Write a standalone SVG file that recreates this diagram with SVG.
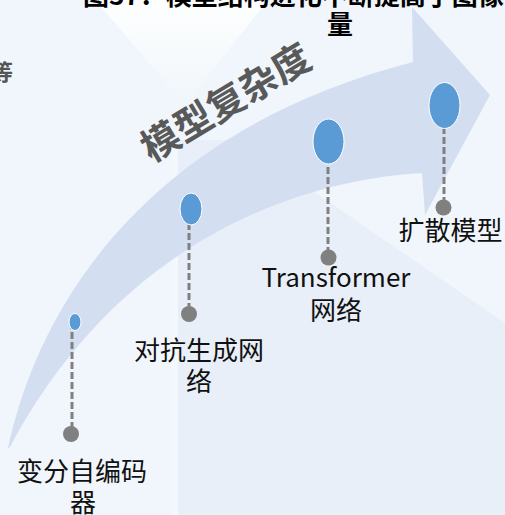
<svg xmlns="http://www.w3.org/2000/svg" width="505" height="515" viewBox="0 0 505 515">
<defs>
<linearGradient id="glow" x1="0" y1="0" x2="0" y2="1">
<stop offset="0" stop-color="#ffffff" stop-opacity="0.95"/>
<stop offset="1" stop-color="#ffffff" stop-opacity="0"/>
</linearGradient>
<style>
.lbl{font-family:"Noto Sans CJK SC","Noto Sans",sans-serif;font-size:26px;fill:#111111;text-anchor:middle}
.title{font-family:"Noto Sans CJK SC","Noto Sans",sans-serif;font-size:26px;font-weight:bold;fill:#000000}
.stage{fill:#5b9bd5;stroke:#ffffff;stroke-width:1}
.dot{fill:#808080}
.conn{stroke:#808080;stroke-width:3;stroke-dasharray:7 3;fill:none}
</style>
</defs>
<rect width="505" height="515" fill="#f0f6fb"/>
<polygon points="177,140 290,140 300,182 505,323 505,515 177,515" fill="#e8eff8"/>
<rect x="172" y="140" width="6" height="375" fill="#f3f8fc"/>
<polygon points="95,0 268,0 185,105" fill="url(#glow)"/>

<g id="arrow">
<path d="M 8 448 C 40 300, 150 130, 413 62 L 412 7 L 490 95 L 425 215 L 422 173 C 300 180, 120 240, 10 447 Z" fill="#d3dff0"/>
</g>

<g id="title">
<text class="title" x="83" y="5">图37：模型结构进化不断提高了图像</text>
<text class="title" x="340" y="34" text-anchor="middle">量</text>
</g>

<text x="-9" y="80" font-family="'Noto Sans CJK SC','Noto Sans',sans-serif" font-size="22" font-weight="bold" fill="#555555">等</text>

<text transform="translate(233,114) rotate(-31)" text-anchor="middle" font-family="'Noto Sans CJK SC','Noto Sans',sans-serif" font-size="38" font-weight="bold" fill="#595959">模型复杂度</text>

<g id="connectors">
<line class="conn" x1="72" y1="322" x2="72" y2="430"/>
<line class="conn" x1="189" y1="203" x2="189" y2="310"/>
<line class="conn" x1="328" y1="147" x2="328" y2="254"/>
<line class="conn" x1="444" y1="97" x2="444" y2="204"/>
</g>

<g id="vae">
<ellipse class="stage" cx="75" cy="322" rx="6" ry="8.5"/>
<circle class="dot" cx="71" cy="434" r="8"/>
<text class="lbl" x="82" y="481">变分自编码</text>
<text class="lbl" x="83" y="512">器</text>
</g>

<g id="gan">
<ellipse class="stage" cx="191" cy="209" rx="11" ry="16"/>
<circle class="dot" cx="189" cy="314" r="8"/>
<text class="lbl" x="199" y="360">对抗生成网</text>
<text class="lbl" x="199" y="391">络</text>
</g>

<g id="transformer">
<ellipse class="stage" cx="328.5" cy="141.5" rx="15.5" ry="22.5"/>
<circle class="dot" cx="328.5" cy="257.5" r="8"/>
<text class="lbl" x="336" y="287">Transformer</text>
<text class="lbl" x="336" y="320">网络</text>
</g>

<g id="diffusion">
<ellipse class="stage" cx="444.5" cy="105.5" rx="15.5" ry="23"/>
<circle class="dot" cx="443.5" cy="207.5" r="8"/>
<text class="lbl" x="450.5" y="240">扩散模型</text>
</g>
</svg>
